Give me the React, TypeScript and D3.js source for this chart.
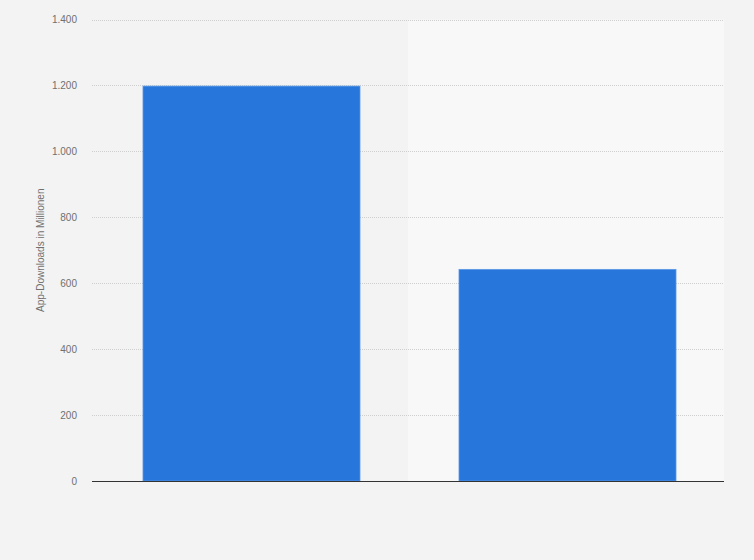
import { useEffect, useRef } from 'react';
import * as d3 from 'd3';

const categories = ['A', 'B'];
const downloads = [1198, 642];
const yTicks = [0, 200, 400, 600, 800, 1000, 1200, 1400];

const W = 754;
const H = 560;
const margin = { top: 19.5, right: 30, bottom: 79, left: 92 };

export default function App() {
  const svgRef = useRef<SVGSVGElement | null>(null);

  useEffect(() => {
    document.body.style.margin = '0';
    if (!svgRef.current) return;
    const svg = d3.select(svgRef.current);
    svg.selectAll('*').remove();

    const x0 = margin.left;
    const x1 = W - margin.right;
    const y0 = H - margin.bottom;

    const x = d3.scaleBand<string>().domain(categories).range([x0, x1]).paddingInner(0).paddingOuter(0);
    const y = d3.scaleLinear().domain([0, 1400]).range([y0, margin.top]);

    const fmt = (v: number) => d3.format(',')(v).replace(/,/g, '.');

    // background
    svg.append('rect').attr('width', W).attr('height', H).attr('fill', '#f3f3f3');

    // alternating bands
    svg.selectAll('rect.band')
      .data(categories)
      .enter()
      .append('rect')
      .attr('class', 'band')
      .attr('x', (d) => x(d)!)
      .attr('y', margin.top)
      .attr('width', x.bandwidth())
      .attr('height', y0 - margin.top)
      .attr('fill', (_, i) => (i % 2 === 1 ? '#f8f8f8' : 'none'));

    // grid
    svg.selectAll('line.grid')
      .data(yTicks.filter((t) => t > 0))
      .enter()
      .append('line')
      .attr('x1', x0)
      .attr('x2', x1)
      .attr('y1', (d) => Math.round(y(d)) + 0.5)
      .attr('y2', (d) => Math.round(y(d)) + 0.5)
      .attr('stroke', '#cfcfcf')
      .attr('stroke-width', 1)
      .attr('stroke-dasharray', '1,1');

    // tick labels
    svg.selectAll('text.tick')
      .data(yTicks)
      .enter()
      .append('text')
      .attr('x', 77)
      .attr('y', (d) => y(d))
      .attr('dy', '0.35em')
      .attr('text-anchor', 'end')
      .attr('font-family', 'Liberation Sans, Arial, sans-serif')
      .attr('font-size', 10)
      .attr('fill', '#707070')
      .text((d) => fmt(d));

    // bars
    const bw = 217;
    svg.selectAll('rect.bar')
      .data(downloads)
      .enter()
      .append('rect')
      .attr('class', 'bar')
      .attr('x', (_, i) => x(categories[i])! + (x.bandwidth() - bw) / 2 + 1.5)
      .attr('y', (d) => y(d))
      .attr('width', bw)
      .attr('height', (d) => y0 - y(d))
      .attr('fill', '#2776db')
      .attr('stroke', '#5b98e6')
      .attr('stroke-width', 0.8);

    // baseline
    svg.append('line')
      .attr('x1', x0)
      .attr('x2', x1)
      .attr('y1', y0 + 0.5)
      .attr('y2', y0 + 0.5)
      .attr('stroke', '#333')
      .attr('stroke-width', 1.2);

    // y axis title
    svg.append('text')
      .attr('transform', `translate(44, ${(margin.top + y0) / 2}) rotate(-90)`)
      .attr('text-anchor', 'middle')
      .attr('font-family', 'Liberation Sans, Arial, sans-serif')
      .attr('font-size', 10)
      .attr('fill', '#707070')
      .text('App-Downloads in Millionen');
  }, []);

  return (
    <div style={{ width: W, height: H }}>
      <svg ref={svgRef} width={W} height={H} style={{ display: 'block' }} />
    </div>
  );
}
